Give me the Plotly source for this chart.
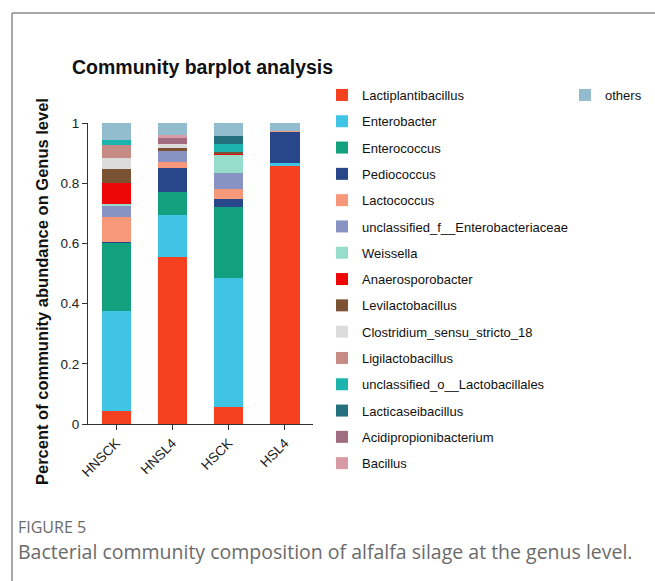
import plotly.graph_objects as go

W, H = 655, 581

samples = ["HNSCK", "HNSL4", "HSCK", "HSL4"]

genera = [
    "Lactiplantibacillus", "Enterobacter", "Enterococcus", "Pediococcus",
    "Lactococcus", "unclassified_f__Enterobacteriaceae", "Weissella",
    "Anaerosporobacter", "Levilactobacillus", "Clostridium_sensu_stricto_18",
    "Ligilactobacillus", "unclassified_o__Lactobacillales", "Lacticaseibacillus",
    "Acidipropionibacterium", "Bacillus", "others",
]

# relative abundance per genus, one value per sample (HNSCK, HNSL4, HSCK, HSL4)
lactiplantibacillus = [0.043, 0.556, 0.057, 0.858]
enterobacter        = [0.332, 0.138, 0.429, 0.008]
enterococcus        = [0.229, 0.078, 0.236, 0.000]
pediococcus         = [0.002, 0.080, 0.025, 0.105]
lactococcus         = [0.081, 0.019, 0.034, 0.003]
uncl_enterobact     = [0.039, 0.037, 0.052, 0.000]
weissella           = [0.004, 0.000, 0.063, 0.000]
anaerosporobacter   = [0.070, 0.000, 0.004, 0.000]
levilactobacillus   = [0.046, 0.010, 0.005, 0.000]
clostridium         = [0.037, 0.011, 0.000, 0.000]
ligilactobacillus   = [0.044, 0.000, 0.000, 0.000]
uncl_lactobacillales = [0.017, 0.000, 0.024, 0.000]
lacticaseibacillus  = [0.000, 0.000, 0.028, 0.000]
acidipropionibact   = [0.000, 0.020, 0.000, 0.000]
bacillus            = [0.000, 0.011, 0.000, 0.000]
others              = [0.056, 0.040, 0.043, 0.026]

abundances = [
    lactiplantibacillus, enterobacter, enterococcus, pediococcus, lactococcus,
    uncl_enterobact, weissella, anaerosporobacter, levilactobacillus,
    clostridium, ligilactobacillus, uncl_lactobacillales, lacticaseibacillus,
    acidipropionibact, bacillus, others,
]

colors = [
    "#F5411F", "#40C4E6", "#12A07F", "#28478A", "#F8987A", "#8893C4",
    "#97DDCB", "#EE0707", "#7B5233", "#DCDCDC", "#C68B84", "#1EB4AE",
    "#24707F", "#A06D80", "#D89AA4", "#93BCCE",
]

y_ticks = [0, 0.2, 0.4, 0.6, 0.8, 1]
y_ticklabels = ["0", "0.2", "0.4", "0.6", "0.8", "1"]

AXIS_FONT = "Liberation Sans, Arial, sans-serif"
CAPTION_FONT = "Open Sans, sans-serif"

fig = go.Figure()
for name, vals, col in zip(genera, abundances, colors):
    fig.add_trace(go.Bar(
        x=samples, y=vals, name=name,
        marker=dict(color=col, line=dict(width=0)),
        legend="legend2" if name == "others" else "legend",
        legendgroup=name,
    ))

px = lambda v: v / W
py = lambda v: 1 - v / H

fig.update_layout(
    width=W, height=H,
    margin=dict(l=0, r=0, t=0, b=0, autoexpand=False),
    paper_bgcolor="white", plot_bgcolor="white",
    barmode="stack", bargap=0.48,
    font=dict(family=AXIS_FONT, color="#222"),
    title=dict(
        text="<b>Community barplot analysis</b>",
        xref="container", yref="container",
        x=px(72), y=py(67), xanchor="left", yanchor="middle",
        font=dict(size=19.5, family=AXIS_FONT, color="#111"),
    ),
    xaxis=dict(
        domain=[px(88), px(313)],
        range=[-0.5, 3.5], automargin=False,
        showline=True, linecolor="#333", linewidth=1,
        ticks="outside", ticklen=5, tickcolor="#333",
        tickangle=-45, tickfont=dict(size=13.5, color="#222"),
        showgrid=False, zeroline=False,
    ),
    yaxis=dict(
        domain=[py(424), py(123)],
        range=[0, 1], automargin=False,
        tickvals=y_ticks, ticktext=y_ticklabels,
        showline=True, linecolor="#333", linewidth=1,
        ticks="outside", ticklen=5, tickcolor="#333",
        tickfont=dict(size=13.5, color="#222"),
        showgrid=False, zeroline=False,
    ),
    legend=dict(
        x=px(322), y=py(80), xanchor="left", yanchor="top",
        font=dict(size=13, color="#111"), tracegroupgap=6.4,
        bgcolor="rgba(0,0,0,0)", traceorder="grouped",
    ),
    legend2=dict(
        x=px(565), y=py(80), xanchor="left", yanchor="top",
        font=dict(size=13, color="#111"),
        bgcolor="rgba(0,0,0,0)",
    ),
    shapes=[
        dict(type="line", xref="paper", yref="paper",
             x0=px(12), x1=px(12), y0=0, y1=py(13),
             line=dict(color="#8a8a8a", width=1.5)),
        dict(type="line", xref="paper", yref="paper",
             x0=px(12), x1=1, y0=py(13), y1=py(13),
             line=dict(color="#8a8a8a", width=1.5)),
    ],
    annotations=[
        dict(text="<b>Percent of community abundance on Genus level</b>",
             xref="paper", yref="paper", textangle=-90,
             x=px(42), y=py(292), xanchor="center", yanchor="middle",
             showarrow=False,
             font=dict(size=16.5, family=AXIS_FONT, color="#111")),
        dict(text="FIGURE 5", xref="paper", yref="paper",
             x=px(16), y=py(527), xanchor="left", yanchor="middle",
             showarrow=False,
             font=dict(size=16, family=CAPTION_FONT, color="#6b6b6b")),
        dict(text="Bacterial community composition of alfalfa silage at the genus level.",
             xref="paper", yref="paper",
             x=px(16), y=py(551), xanchor="left", yanchor="middle",
             showarrow=False,
             font=dict(size=19.5, family=CAPTION_FONT, color="#6b6b6b")),
    ],
)

fig.write_html("out.html")
